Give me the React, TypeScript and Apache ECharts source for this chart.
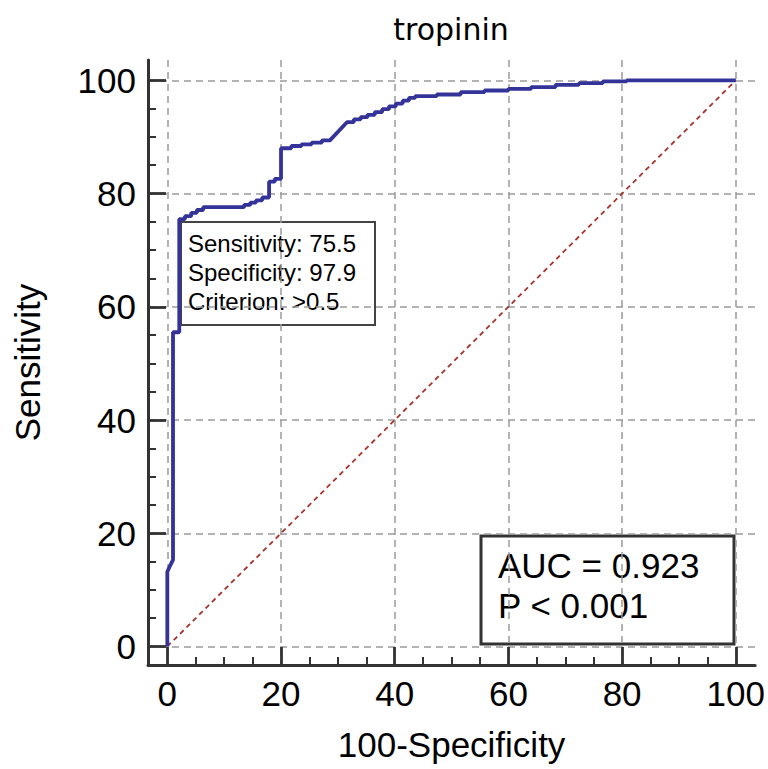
import React, { useEffect, useRef } from "react";
import * as echarts from "echarts";

// ROC curve points (100-Specificity, Sensitivity)
const fpr = [
  0, 0, 0.5, 1.0, 1.0, 2.1, 2.1,
  3.1, 3.1, 4.2, 4.2, 5.2, 5.2, 6.3, 6.3,
  12.5,
  13.5, 13.5, 14.6, 14.6, 15.6, 15.6, 16.7, 16.7, 17.9, 17.9,
  18.9, 18.9, 20.0, 20.0,
  21.8, 21.8, 23.6, 23.6, 25.4, 25.4, 27.2, 27.2, 28.6,
  31.6,
  32.8, 32.8, 34.0, 34.0, 35.2, 35.2, 36.5, 36.5, 37.8, 37.8, 39.0, 39.0,
  40.2, 40.2, 41.4, 41.4, 42.5, 42.5, 43.6, 43.6,
  47.4, 47.4, 51.6, 51.6, 55.8, 55.8, 60.0, 60.0, 64.0, 64.0,
  68.3, 68.3, 72.4, 72.4, 76.6, 76.6, 80.8, 80.8, 100,
];
const tpr = [
  0, 13.2, 14.3, 15.3, 55.5, 55.5, 75.5,
  75.5, 76.0, 76.0, 76.6, 76.6, 77.1, 77.1, 77.6,
  77.6,
  77.6, 78.0, 78.0, 78.4, 78.4, 78.8, 78.8, 79.3, 79.3, 82.1,
  82.1, 82.6, 82.6, 88.0,
  88.0, 88.4, 88.4, 88.7, 88.7, 89.0, 89.0, 89.4, 89.4,
  92.6,
  92.6, 93.1, 93.1, 93.5, 93.5, 93.9, 93.9, 94.4, 94.4, 94.9, 94.9, 95.4,
  95.4, 95.9, 95.9, 96.4, 96.4, 96.9, 96.9, 97.2,
  97.2, 97.5, 97.5, 97.9, 97.9, 98.2, 98.2, 98.5, 98.5, 98.8,
  98.8, 99.2, 99.2, 99.5, 99.5, 99.8, 99.8, 100, 100,
];

const diagonalX = [0, 100];
const diagonalY = [0, 100];

const tickValues = [0, 20, 40, 60, 80, 100];

const chartTitle = "tropinin";
const xName = "100-Specificity";
const yName = "Sensitivity";

const criterionLines = ["Sensitivity: 75.5", "Specificity: 97.9", "Criterion: >0.5"];
const aucLines = ["AUC = 0.923", "P < 0.001"];

const FONT = "'Liberation Sans', Arial, sans-serif";

export default function App() {
  const ref = useRef<HTMLDivElement>(null);

  useEffect(() => {
    if (!ref.current) return;
    const chart = echarts.init(ref.current, null, { renderer: "svg" });

    const rocData = fpr.map((x, i) => [x, tpr[i]]);
    const diagData = diagonalX.map((x, i) => [x, diagonalY[i]]);

    const axisCommon = {
      type: "value",
      axisLine: { show: true, onZero: false, lineStyle: { color: "#333", width: 3 } },
      axisTick: {
        show: true,
        inside: true,
        length: 18,
        customValues: tickValues,
        lineStyle: { color: "#333", width: 2.8 },
      },
      minorTick: {
        show: true,
        splitNumber: 4,
        length: 8,
        lineStyle: { color: "#333", width: 2 },
      },
      axisLabel: {
        customValues: tickValues,
        fontSize: 35,
        fontFamily: FONT,
        color: "#000",
      },
      splitLine: {
        show: true,
        lineStyle: { color: "#9a9a9a", width: 1.5, type: [7, 5] },
      },
      minorSplitLine: { show: false },
      nameLocation: "middle",
      nameTextStyle: { fontSize: 35, fontFamily: FONT, color: "#000" },
    };

    const option = {
      animation: false,
      backgroundColor: "#ffffff",
      title: {
        text: chartTitle,
        left: 446,
        textAlign: "center",
        top: 9,
        textStyle: {
          fontSize: 30,
          fontWeight: "normal",
          fontFamily: "'DejaVu Sans', sans-serif",
          color: "#000",
        },
      },
      grid: { left: 148, top: 60, width: 608, height: 605, containLabel: false },
      xAxis: {
        ...axisCommon,
        min: -3.4,
        max: 103.4,
        name: xName,
        nameGap: 62,
        axisLabel: { ...axisCommon.axisLabel, margin: 11 },
      },
      yAxis: {
        ...axisCommon,
        min: -3.27,
        max: 103.59,
        name: yName,
        nameGap: 103,
        axisLabel: { ...axisCommon.axisLabel, margin: 12 },
      },
      series: [
        {
          type: "line",
          data: diagData,
          showSymbol: false,
          symbol: "none",
          lineStyle: { color: "#a8322c", width: 1.8, type: [5, 4] },
          z: 3,
        },
        {
          type: "line",
          data: rocData,
          showSymbol: false,
          symbol: "none",
          lineStyle: { color: "#33339a", width: 3.8 },
          z: 4,
        },
      ],
      graphic: [
        {
          type: "group",
          z: 100,
          children: [
            {
              type: "rect",
              shape: { x: 181, y: 222, width: 194, height: 103 },
              style: { fill: "#fff", stroke: "#444", lineWidth: 2 },
            },
            ...criterionLines.map((t, i) => ({
              type: "text",
              x: 188,
              y: 243 + i * 29.4,
              style: {
                text: t,
                font: `24px ${FONT}`,
                fill: "#000",
                verticalAlign: "middle",
                align: "left",
              },
            })),
            {
              type: "rect",
              shape: { x: 481, y: 536, width: 253, height: 108 },
              style: { fill: "#fff", stroke: "#333", lineWidth: 3 },
            },
            ...aucLines.map((t, i) => ({
              type: "text",
              x: 498,
              y: 565 + i * 40,
              style: {
                text: t,
                font: `35px ${FONT}`,
                fill: "#000",
                verticalAlign: "middle",
                align: "left",
              },
            })),
          ],
        },
      ],
    };

    chart.setOption(option as any);
    return () => chart.dispose();
  }, []);

  return (
    <div
      ref={ref}
      style={{ position: "absolute", left: 0, top: 0, width: 768, height: 769 }}
    />
  );
}
